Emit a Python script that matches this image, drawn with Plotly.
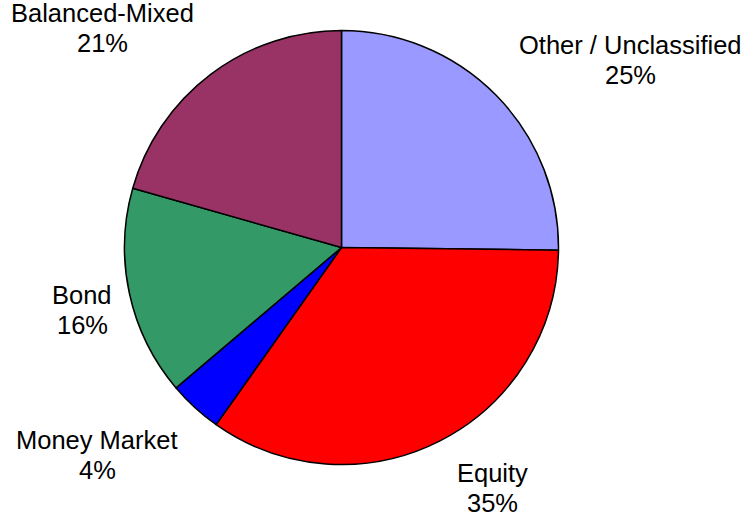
import plotly.graph_objects as go

labels = ["Other / Unclassified", "Equity", "Money Market", "Bond", "Balanced-Mixed"]
values = [25.2, 34.6, 4.0, 15.6, 20.6]
colors = ["#9999FF", "#FF0000", "#0000FF", "#339966", "#993366"]

W, H = 746, 512
cx, cy, r = 341.5, 247.5, 217

fig = go.Figure(go.Pie(
    labels=labels, values=values, sort=False, direction="clockwise",
    marker=dict(colors=colors, line=dict(color="black", width=1.5)),
    textinfo="none", hoverinfo="label+percent", showlegend=False,
    domain=dict(x=[(cx - r) / W, (cx + r) / W], y=[1 - (cy + r) / H, 1 - (cy - r) / H]),
))

total = sum(values)
# label block positions (pixel centers of the two lines), plus alignment
label_pos = {
    "Other / Unclassified": (630, 45, "center"),
    "Equity": (492, 473, "center"),
    "Money Market": (97, 440, "center"),
    "Bond": (82, 295, "center"),
    "Balanced-Mixed": (102, 13, "center"),
}
fnt = dict(family="Liberation Sans, Arial, sans-serif", size=25.5, color="black")
ann = []
for lab, v in zip(labels, values):
    x, y, al = label_pos[lab]
    pct = f"{round(v / total * 100):.0f}%"
    ann.append(dict(x=x / W, y=1 - y / H, xref="paper", yref="paper", text=lab,
                    showarrow=False, font=fnt, xanchor="center", yanchor="middle"))
    ann.append(dict(x=x / W, y=1 - (y + 30) / H, xref="paper", yref="paper", text=pct,
                    showarrow=False, font=fnt, xanchor="center", yanchor="middle"))

fig.update_layout(
    width=W, height=H, margin=dict(l=0, r=0, t=0, b=0),
    paper_bgcolor="white", plot_bgcolor="white", annotations=ann,
)
fig.write_html("out.html")
